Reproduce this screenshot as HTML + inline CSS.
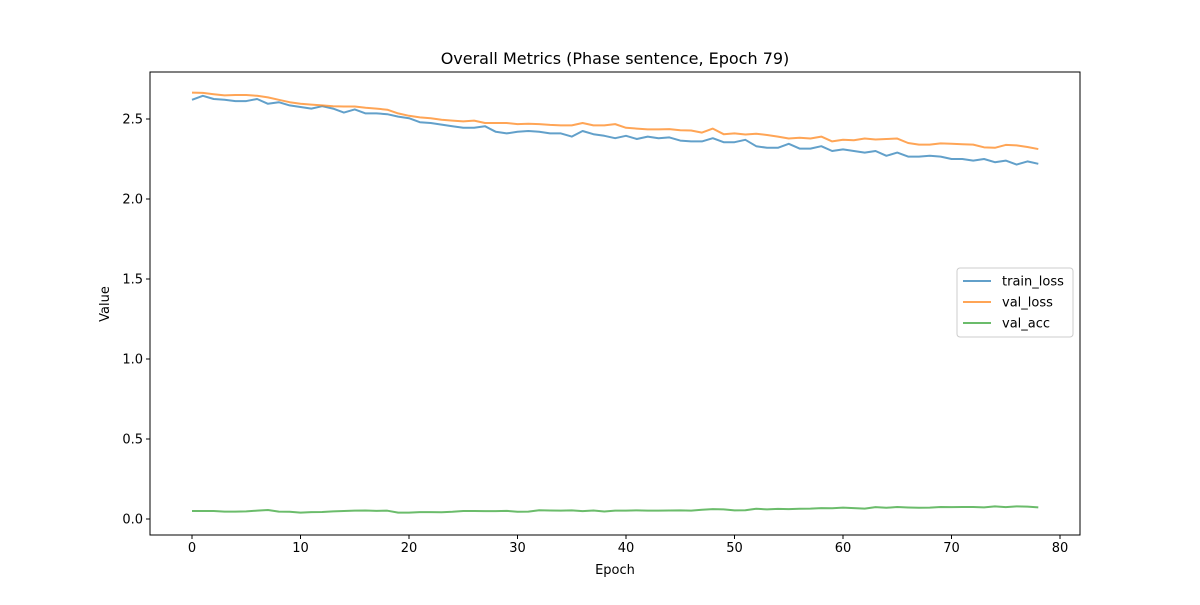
<!DOCTYPE html>
<html><head><meta charset="utf-8"><style>
body{margin:0;background:#fff;font-family:"Liberation Sans","DejaVu Sans",sans-serif}
svg text{font-family:"DejaVu Sans","Liberation Sans",sans-serif;font-size:13px;fill:#000}
</style></head><body>
<svg id="c" width="1200" height="600"></svg>
<script>
const epochs=[...Array(79).keys()];
const trainLoss=[2.62,2.645,2.625,2.62,2.612,2.612,2.625,2.595,2.605,2.585,2.575,2.565,2.58,2.565,2.54,2.56,2.535,2.535,2.53,2.515,2.505,2.48,2.475,2.465,2.455,2.445,2.445,2.455,2.42,2.41,2.42,2.425,2.42,2.41,2.41,2.39,2.425,2.405,2.395,2.38,2.395,2.375,2.39,2.38,2.385,2.365,2.36,2.36,2.38,2.355,2.355,2.37,2.33,2.32,2.32,2.345,2.315,2.315,2.33,2.3,2.31,2.3,2.29,2.3,2.27,2.29,2.265,2.265,2.27,2.265,2.25,2.25,2.24,2.25,2.23,2.24,2.215,2.235,2.22];
const valLoss=[2.665,2.663,2.655,2.648,2.65,2.65,2.645,2.635,2.62,2.605,2.595,2.59,2.585,2.58,2.578,2.578,2.57,2.565,2.558,2.535,2.52,2.51,2.505,2.495,2.49,2.485,2.49,2.475,2.475,2.475,2.468,2.47,2.468,2.463,2.46,2.46,2.475,2.46,2.46,2.468,2.445,2.44,2.435,2.435,2.437,2.43,2.428,2.415,2.44,2.405,2.41,2.403,2.408,2.4,2.39,2.378,2.383,2.378,2.39,2.36,2.37,2.367,2.378,2.372,2.375,2.378,2.35,2.34,2.34,2.348,2.345,2.342,2.34,2.323,2.32,2.338,2.335,2.325,2.312];
const valAcc=[.05,.05,.05,.046,.046,.048,.052,.056,.046,.045,.04,.043,.044,.048,.05,.052,.053,.051,.052,.04,.04,.043,.043,.042,.045,.05,.05,.049,.049,.051,.045,.046,.055,.053,.052,.054,.049,.053,.047,.052,.052,.054,.052,.052,.053,.054,.052,.058,.062,.06,.054,.055,.064,.06,.063,.062,.064,.065,.068,.067,.071,.068,.065,.074,.07,.075,.072,.07,.071,.075,.074,.075,.075,.073,.079,.074,.079,.077,.073];
const xTicks=[0,10,20,30,40,50,60,70,80];
const yTicks=[0,0.5,1.0,1.5,2.0,2.5];
const seriesNames=["train_loss","val_loss","val_acc"];
const colors=["#1f77b4","#ff7f0e","#2ca02c"];
const L=150,R=1080,T=72,B=535;
const X=v=>192+v*(1060-192)/80;
const Y=v=>519-v*160;
const svg=document.getElementById('c');
const NS="http://www.w3.org/2000/svg";
function mk(t,a,p){const e=document.createElementNS(NS,t);for(const k in a)e.setAttribute(k,a[k]);(p||svg).appendChild(e);return e;}
let t=mk('text',{x:615,y:64,'text-anchor':'middle'});t.textContent="Overall Metrics (Phase sentence, Epoch 79)";t.style.fontSize="16px";


[trainLoss,valLoss,valAcc].forEach((d,i)=>{
 const p=mk('polyline',{points:d.map((v,j)=>X(epochs[j])+','+Y(v)).join(' '),fill:'none',stroke:colors[i],'stroke-width':2,'stroke-opacity':0.7,'stroke-linejoin':'round'});
 
 
});
const fr=mk('rect',{x:L,y:T,width:R-L,height:B-T,fill:'none',stroke:'#000','stroke-width':1});


xTicks.forEach(v=>{mk('line',{x1:X(v),x2:X(v),y1:B,y2:B+4,stroke:'#000'});
 const e=mk('text',{x:X(v),y:B+17,'text-anchor':'middle'});e.textContent=v;
 
 });
yTicks.forEach(v=>{mk('line',{x1:L-4,x2:L,y1:Y(v),y2:Y(v),stroke:'#000'});
 const e=mk('text',{x:L-7,y:Y(v)+4.5,'text-anchor':'end'});e.textContent=v.toFixed(1);
 
 });
let xl=mk('text',{x:615,y:574,'text-anchor':'middle'});xl.textContent="Epoch";


let yl=mk('text',{x:109,y:304,'text-anchor':'middle',transform:'rotate(-90 109 304)'});yl.textContent="Value";


const lg=mk('g',{});


mk('rect',{x:957,y:268,width:116,height:69,rx:3,fill:'#fff',stroke:'#ccc','fill-opacity':0.8},lg);
seriesNames.forEach((n,i)=>{const y=281+i*21;
 mk('line',{x1:963,x2:991,y1:y,y2:y,stroke:colors[i],'stroke-width':2,'stroke-opacity':0.7},lg);
 const e=mk('text',{x:1002,y:y+4.5},lg);e.textContent=n;
 
 });
</script>
</body></html>
